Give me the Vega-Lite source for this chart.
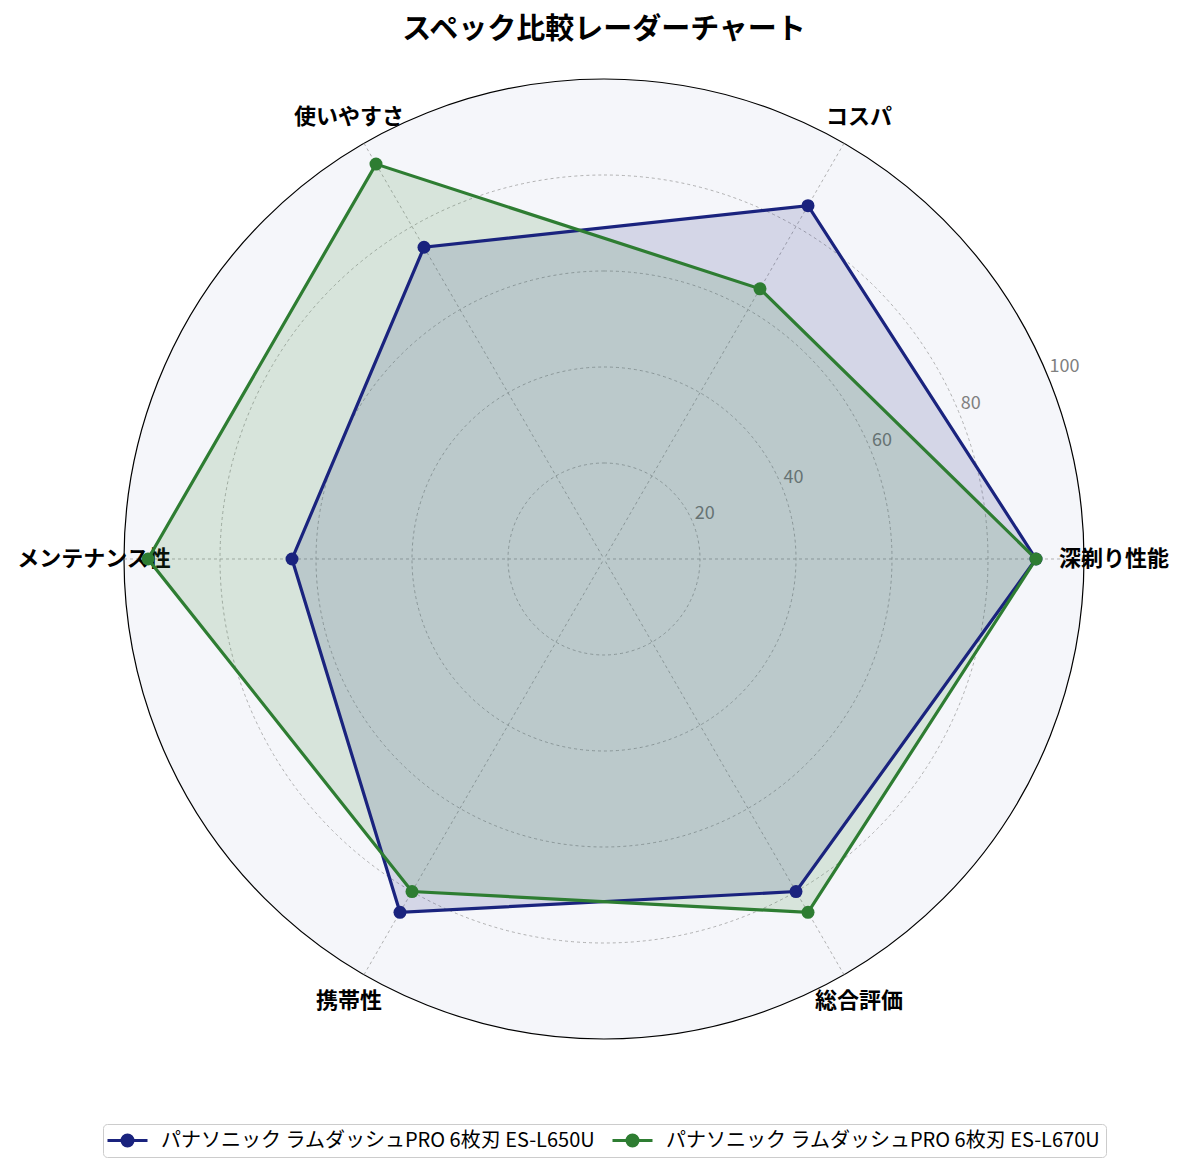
{
  "$schema": "https://vega.github.io/schema/vega-lite/v6.json",
  "width": 1184,
  "height": 1174,
  "autosize": {"type": "none"},
  "padding": 0,
  "background": "white",
  "config": {
    "view": {"stroke": null},
    "font": "Noto Sans CJK JP",
    "title": {"fontSize": 29, "fontWeight": "bold", "color": "black", "font": "Noto Sans CJK JP"}
  },
  "title": {"text": "スペック比較レーダーチャート", "anchor": "middle", "frame": "group", "offset": -45, "dx": 12},
  "datasets": {
    "axes": [
      {"axis": "深剃り性能"},
      {"axis": "コスパ"},
      {"axis": "使いやすさ"},
      {"axis": "メンテナンス性"},
      {"axis": "携帯性"},
      {"axis": "総合評価"}
    ],
    "rings": [
      {"r": 20}, {"r": 40}, {"r": 60}, {"r": 80}, {"r": 100}
    ],
    "scores": [
      {"model": "パナソニック ラムダッシュPRO 6枚刃 ES-L650U", "axis": "深剃り性能", "value": 90},
      {"model": "パナソニック ラムダッシュPRO 6枚刃 ES-L650U", "axis": "コスパ", "value": 85},
      {"model": "パナソニック ラムダッシュPRO 6枚刃 ES-L650U", "axis": "使いやすさ", "value": 75},
      {"model": "パナソニック ラムダッシュPRO 6枚刃 ES-L650U", "axis": "メンテナンス性", "value": 65},
      {"model": "パナソニック ラムダッシュPRO 6枚刃 ES-L650U", "axis": "携帯性", "value": 85},
      {"model": "パナソニック ラムダッシュPRO 6枚刃 ES-L650U", "axis": "総合評価", "value": 80},
      {"model": "パナソニック ラムダッシュPRO 6枚刃 ES-L670U", "axis": "深剃り性能", "value": 90},
      {"model": "パナソニック ラムダッシュPRO 6枚刃 ES-L670U", "axis": "コスパ", "value": 65},
      {"model": "パナソニック ラムダッシュPRO 6枚刃 ES-L670U", "axis": "使いやすさ", "value": 95},
      {"model": "パナソニック ラムダッシュPRO 6枚刃 ES-L670U", "axis": "メンテナンス性", "value": 95},
      {"model": "パナソニック ラムダッシュPRO 6枚刃 ES-L670U", "axis": "携帯性", "value": 80},
      {"model": "パナソニック ラムダッシュPRO 6枚刃 ES-L670U", "axis": "総合評価", "value": 85}
    ]
  },
  "layer": [
    {
      "data": {"name": "rings"},
      "transform": [{"filter": "datum.r == 100"}],
      "mark": {"type": "arc", "theta": 0, "theta2": 6.2832, "fill": "#f5f6fa", "stroke": "black", "strokeWidth": 1.2},
      "encoding": {
        "x": {"datum": 0, "type": "quantitative", "scale": {"domain": [-125.833, 120.833], "nice": false, "zero": false}, "axis": null},
        "y": {"datum": 0, "type": "quantitative", "scale": {"domain": [-128.125, 116.458], "nice": false, "zero": false}, "axis": null},
        "radius": {"field": "r", "type": "quantitative", "stack": null, "scale": {"type": "linear", "domain": [0, 100], "range": [0, 480], "zero": true}, "legend": null}
      }
    },
    {
      "data": {"name": "rings"},
      "transform": [{"filter": "datum.r < 100"}],
      "mark": {"type": "arc", "theta": 0, "theta2": 6.2832, "filled": false, "stroke": "#a0a0a0", "strokeWidth": 0.8, "strokeDash": [3, 3]},
      "encoding": {
        "x": {"datum": 0, "type": "quantitative", "scale": {"domain": [-125.833, 120.833], "nice": false, "zero": false}, "axis": null},
        "y": {"datum": 0, "type": "quantitative", "scale": {"domain": [-128.125, 116.458], "nice": false, "zero": false}, "axis": null},
        "radius": {"field": "r", "type": "quantitative", "stack": null, "scale": {"type": "linear", "domain": [0, 100], "range": [0, 480], "zero": true}, "legend": null}
      }
    },
    {
      "data": {"name": "axes"},
      "transform": [
        {"calculate": "indexof(['深剃り性能','コスパ','使いやすさ','メンテナンス性','携帯性','総合評価'], datum.axis) * PI / 3", "as": "ang"},
        {"calculate": "100 * cos(datum.ang)", "as": "sx"},
        {"calculate": "100 * sin(datum.ang)", "as": "sy"}
      ],
      "mark": {"type": "rule", "color": "#a0a0a0", "strokeWidth": 0.8, "strokeDash": [3, 3]},
      "encoding": {
        "x": {"field": "sx", "type": "quantitative", "scale": {"domain": [-125.833, 120.833], "nice": false, "zero": false}, "axis": null},
        "y": {"field": "sy", "type": "quantitative", "scale": {"domain": [-128.125, 116.458], "nice": false, "zero": false}, "axis": null},
        "x2": {"datum": 0},
        "y2": {"datum": 0}
      }
    },
    {
      "data": {"name": "rings"},
      "transform": [
        {"calculate": "datum.r * cos(PI / 8)", "as": "lx"},
        {"calculate": "datum.r * sin(PI / 8)", "as": "ly"}
      ],
      "mark": {"type": "text", "align": "left", "baseline": "bottom", "dx": 2, "dy": 1, "fontSize": 18, "color": "#808080"},
      "encoding": {
        "x": {"field": "lx", "type": "quantitative", "scale": {"domain": [-125.833, 120.833], "nice": false, "zero": false}, "axis": null},
        "y": {"field": "ly", "type": "quantitative", "scale": {"domain": [-128.125, 116.458], "nice": false, "zero": false}, "axis": null},
        "text": {"field": "r", "type": "quantitative"}
      }
    },
    {
      "data": {"name": "axes"},
      "transform": [
        {"calculate": "indexof(['深剃り性能','コスパ','使いやすさ','メンテナンス性','携帯性','総合評価'], datum.axis) * PI / 3", "as": "ang"},
        {"calculate": "106.25 * cos(datum.ang)", "as": "tx"},
        {"calculate": "106.25 * sin(datum.ang)", "as": "ty"}
      ],
      "mark": {"type": "text", "align": "center", "baseline": "middle", "fontSize": 22, "fontWeight": "bold", "color": "black"},
      "encoding": {
        "x": {"field": "tx", "type": "quantitative", "scale": {"domain": [-125.833, 120.833], "nice": false, "zero": false}, "axis": null},
        "y": {"field": "ty", "type": "quantitative", "scale": {"domain": [-128.125, 116.458], "nice": false, "zero": false}, "axis": null},
        "text": {"field": "axis", "type": "nominal"}
      }
    },
    {
      "data": {"name": "scores"},
      "transform": [
        {"calculate": "indexof(['深剃り性能','コスパ','使いやすさ','メンテナンス性','携帯性','総合評価'], datum.axis)", "as": "idx"},
        {"calculate": "datum.value * cos(datum.idx * PI / 3)", "as": "px"},
        {"calculate": "datum.value * sin(datum.idx * PI / 3)", "as": "py"}
      ],
      "mark": {"type": "line", "interpolate": "linear-closed", "fillOpacity": 0.15, "strokeOpacity": 0},
      "encoding": {
        "x": {"field": "px", "type": "quantitative", "scale": {"domain": [-125.833, 120.833], "nice": false, "zero": false}, "axis": null},
        "y": {"field": "py", "type": "quantitative", "scale": {"domain": [-128.125, 116.458], "nice": false, "zero": false}, "axis": null},
        "order": {"field": "idx", "type": "quantitative"},
        "detail": {"field": "model", "type": "nominal"},
        "fill": {"field": "model", "type": "nominal", "scale": {"range": ["#1a237e", "#2e7d32"]}, "legend": null}
      }
    },
    {
      "data": {"name": "scores"},
      "transform": [
        {"calculate": "indexof(['深剃り性能','コスパ','使いやすさ','メンテナンス性','携帯性','総合評価'], datum.axis)", "as": "idx"},
        {"calculate": "datum.value * cos(datum.idx * PI / 3)", "as": "px"},
        {"calculate": "datum.value * sin(datum.idx * PI / 3)", "as": "py"}
      ],
      "mark": {"type": "line", "interpolate": "linear-closed", "strokeWidth": 3.2},
      "encoding": {
        "x": {"field": "px", "type": "quantitative", "scale": {"domain": [-125.833, 120.833], "nice": false, "zero": false}, "axis": null},
        "y": {"field": "py", "type": "quantitative", "scale": {"domain": [-128.125, 116.458], "nice": false, "zero": false}, "axis": null},
        "order": {"field": "idx", "type": "quantitative"},
        "color": {
          "field": "model", "type": "nominal",
          "scale": {"range": ["#1a237e", "#2e7d32"]},
          "legend": {
            "title": null,
            "orient": "none",
            "direction": "horizontal",
            "legendX": 103,
            "legendY": 1124,
            "padding": 5,
            "strokeColor": "#cccccc",
            "fillColor": "white",
            "cornerRadius": 4,
            "labelFontSize": 20,
            "labelColor": "black",
            "labelFont": "Noto Sans CJK JP",
            "labelLimit": 600,
            "symbolOffset": 8,
            "labelOffset": 22,
            "columnPadding": 10,
            "symbolType": "M-2,0H2M-0.55,0A0.55,0.55,0,1,1,0.55,0A0.55,0.55,0,1,1,-0.55,0Z",
            "symbolSize": 400,
            "symbolStrokeWidth": 3,
            "encode": {
              "symbols": {"update": {"fill": {"scale": "color", "field": "value"}, "stroke": {"scale": "color", "field": "value"}, "opacity": {"value": 1}}}
            }
          }
        }
      }
    },
    {
      "data": {"name": "scores"},
      "transform": [
        {"calculate": "indexof(['深剃り性能','コスパ','使いやすさ','メンテナンス性','携帯性','総合評価'], datum.axis)", "as": "idx"},
        {"calculate": "datum.value * cos(datum.idx * PI / 3)", "as": "px"},
        {"calculate": "datum.value * sin(datum.idx * PI / 3)", "as": "py"}
      ],
      "mark": {"type": "point", "shape": "circle", "filled": true, "opacity": 1, "size": 169},
      "encoding": {
        "x": {"field": "px", "type": "quantitative", "scale": {"domain": [-125.833, 120.833], "nice": false, "zero": false}, "axis": null},
        "y": {"field": "py", "type": "quantitative", "scale": {"domain": [-128.125, 116.458], "nice": false, "zero": false}, "axis": null},
        "color": {"field": "model", "type": "nominal", "scale": {"range": ["#1a237e", "#2e7d32"]}, "legend": null}
      }
    }
  ]
}
